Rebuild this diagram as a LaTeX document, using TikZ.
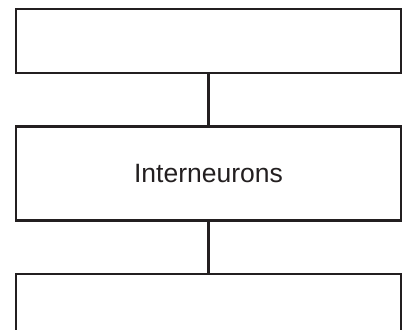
\documentclass[tikz,border=0pt]{standalone}
\usepackage{fontspec}
\setmainfont{Liberation Sans}
\usepackage{tikz}
\usetikzlibrary{positioning}
\definecolor{inkgray}{HTML}{231F20}

\begin{document}
\begin{tikzpicture}[
  x=1pt, y=1pt,
  node distance=51pt,
  box/.style={rectangle, draw=inkgray, line width=2.4pt, align=center, minimum width=385pt, font=\fontsize{26.5}{32}\selectfont, text=inkgray},
  link/.style={draw=inkgray, line width=2.4pt},
]
\clip (0,0) rectangle (406,-329);
\useasboundingbox (0,0) rectangle (406,-329);
\node[box, minimum height=64pt] (sensory) at (208.5,-41) {};
\node[box, minimum height=94pt, below=of sensory] (inter) {Interneurons};
\node[box, minimum height=94pt, below=of inter] (motor) {};

\draw[link] (sensory) -- (inter);
\draw[link] (inter) -- (motor);
\end{tikzpicture}
\end{document}
